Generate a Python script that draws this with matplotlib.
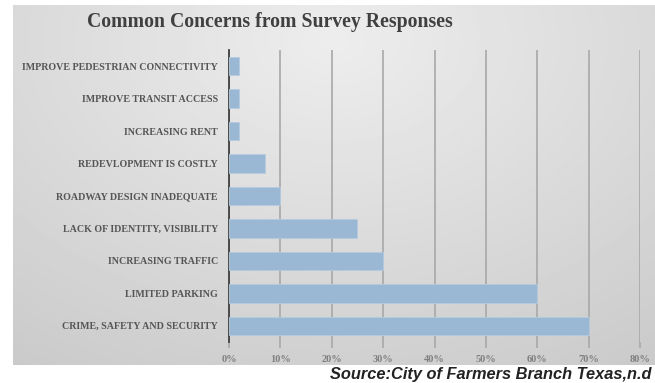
import numpy as np
import matplotlib.pyplot as plt
from matplotlib.ticker import FuncFormatter

# survey data, bottom to top
concerns = ['CRIME, SAFETY AND SECURITY', 'LIMITED PARKING', 'INCREASING TRAFFIC',
            'LACK OF IDENTITY, VISIBILITY', 'ROADWAY DESIGN INADEQUATE',
            'REDEVLOPMENT IS COSTLY', 'INCREASING RENT', 'IMPROVE TRANSIT ACCESS',
            'IMPROVE PEDESTRIAN CONNECTIVITY']
shares = [0.70, 0.60, 0.30, 0.25, 0.10, 0.07, 0.02, 0.02, 0.02]
ticks = [0, 0.1, 0.2, 0.3, 0.4, 0.5, 0.6, 0.7, 0.8]

fig = plt.figure(figsize=(6.55, 3.83), dpi=100)
fig.patch.set_facecolor('white')

# gray gradient panel behind the chart
bg = fig.add_axes([13/655, 1 - 365/383, 1 - 13/655, 360/383])
yy, xx = np.mgrid[0:1:200j, 0:1:300j]
r = np.sqrt(((xx - 0.5) / 0.9) ** 2 + ((yy - 0.9) / 1.1) ** 2)
bg.imshow(0.93 - 0.14 * r, cmap='gray', vmin=0, vmax=1, aspect='auto',
          extent=[0, 1, 0, 1], origin='lower')
bg.axis('off')

ax = fig.add_axes([229/655, 1 - 342/383, 411/655, 292/383])
ax.patch.set_alpha(0)
y = np.arange(len(concerns))
ax.barh(y, shares, height=0.57, color='#9ab8d4', edgecolor='#b5cbe0', lw=0.6, zorder=3)
ax.set_ylim(-0.5, len(concerns) - 0.5)
ax.set_xlim(0, 0.8)
ax.set_xticks(ticks)
ax.xaxis.set_major_formatter(FuncFormatter(lambda v, p: f'{v*100:.0f}%'))
ax.set_yticks(y)
ax.set_yticklabels(concerns)
ax.grid(axis='x', color='#a8a8a8', lw=1.2, zorder=0)
ax.set_axisbelow(True)
for s in ['top', 'right', 'bottom']:
    ax.spines[s].set_visible(False)
ax.spines['left'].set_color('#404040')
ax.spines['left'].set_linewidth(1.3)
ax.tick_params(axis='y', length=0, pad=8, labelsize=7.2, labelcolor='#555555')
ax.tick_params(axis='x', length=4, color='#a8a8a8', width=1.2, labelsize=7.5,
               labelcolor='#808080', pad=5)
for lab in ax.get_yticklabels() + ax.get_xticklabels():
    lab.set_fontfamily('Liberation Serif')
    lab.set_fontweight('bold')

fig.text(270/655, 1 - 22/383, 'Common Concerns from Survey Responses', ha='center', va='center',
         fontsize=14.2, fontweight='bold', color='#404040', family='Liberation Serif')
fig.text(652/655, 1 - 374/383, 'Source:City of Farmers Branch Texas,n.d', ha='right', va='center',
         fontsize=11.8, fontweight='bold', style='italic', color='#222222',
         family='Liberation Sans')

fig.savefig('out.png', dpi=100)
